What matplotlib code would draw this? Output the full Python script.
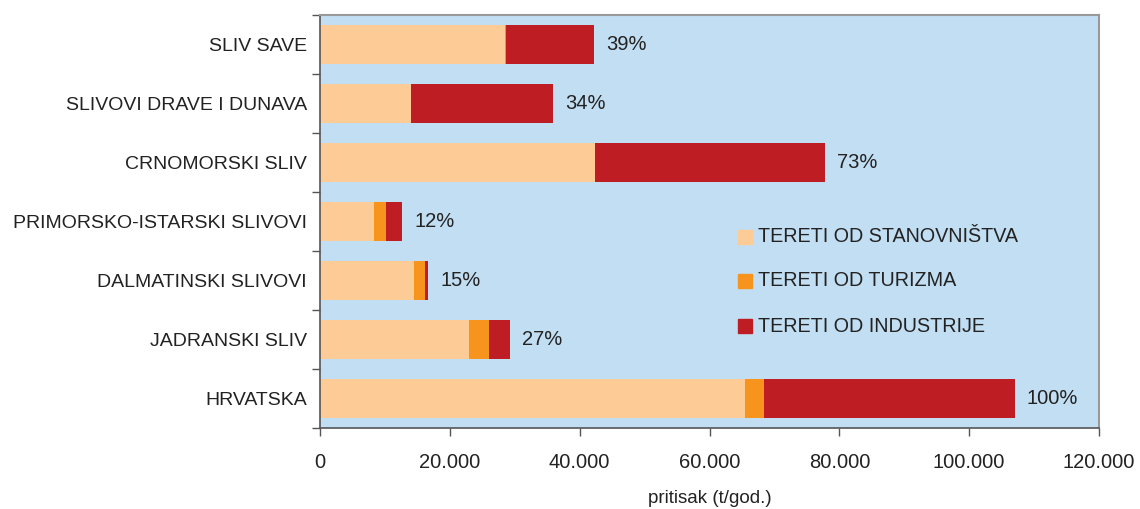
import matplotlib
matplotlib.use("Agg")
import matplotlib.pyplot as plt
import numpy as np
from matplotlib.ticker import FuncFormatter, FixedLocator
from matplotlib.patches import Rectangle

plt.rcParams['font.family'] = ['Liberation Sans', 'DejaVu Sans']

categories = ["SLIV SAVE", "SLIVOVI DRAVE I DUNAVA", "CRNOMORSKI SLIV",
              "PRIMORSKO-ISTARSKI SLIVOVI", "DALMATINSKI SLIVOVI",
              "JADRANSKI SLIV", "HRVATSKA"]
stanovnistvo = [28500, 14000, 42400, 8300, 14500, 22900, 65500]
turizam = [200, 0, 0, 1900, 1600, 3200, 2900]
industrija = [13500, 21900, 35400, 2400, 500, 3100, 38600]
pct_labels = ["39%", "34%", "73%", "12%", "15%", "27%", "100%"]
series_names = ["TERETI OD STANOVNIŠTVA", "TERETI OD TURIZMA", "TERETI OD INDUSTRIJE"]
colors = ["#FCCB96", "#F7941E", "#BE1E23"]

fig = plt.figure(figsize=(11.4, 5.09), dpi=100)
ax = fig.add_axes([320/1140, 1-428/509, (1099-320)/1140, (428-15)/509])
ax.set_facecolor("#C2DEF2")

y = np.arange(len(categories))
h = 0.66
s = np.array(stanovnistvo); t = np.array(turizam); ind = np.array(industrija)
ax.barh(y, s, height=h, color=colors[0], label=series_names[0])
ax.barh(y, t, left=s, height=h, color=colors[1], label=series_names[1])
ax.barh(y, ind, left=s+t, height=h, color=colors[2], label=series_names[2])

tot = s + t + ind
for yi, v, lab in zip(y, tot, pct_labels):
    ax.text(v + 1900, yi, lab, va='center', ha='left', fontsize=14.5, color='#222222')

ax.set_xlim(0, 120000)
ax.set_ylim(len(categories)-0.5, -0.5)
ax.set_yticks(y)
ax.set_yticklabels(categories, fontsize=14, color='#222222')
ax.yaxis.set_minor_locator(FixedLocator(np.arange(-0.5, len(categories), 1.0)))
ax.tick_params(axis='y', which='major', length=0, pad=9.5)
ax.tick_params(axis='y', which='minor', length=6, width=1, color='#555555')
ax.set_xticks(np.arange(0, 120001, 20000))
ax.xaxis.set_major_formatter(FuncFormatter(lambda v, p: f"{int(v):,}".replace(",", ".")))
ax.tick_params(axis='x', length=6, width=1, color='#555555', labelsize=14.5, labelcolor='#222222', pad=12)
ax.set_xlabel("pritisak (t/god.)", fontsize=13.5, color='#222222', labelpad=13)

for side in ['top', 'right']:
    ax.spines[side].set_color('#999999')
    ax.spines[side].set_linewidth(1.5)
for side in ['left', 'bottom']:
    ax.spines[side].set_color('#555555')
    ax.spines[side].set_linewidth(1.2)

# legend
leg_y = [237, 281, 326]
for name, c, py in zip(series_names, colors, leg_y):
    fy = 1 - py/509
    fig.patches.append(Rectangle((738/1140, fy - 7/509), 14/1140, 14/509,
                                 transform=fig.transFigure, color=c))
    fig.text(758/1140, fy, name, va='center', ha='left', fontsize=14.2, color='#222222')

fig.savefig("out.png", dpi=100)
